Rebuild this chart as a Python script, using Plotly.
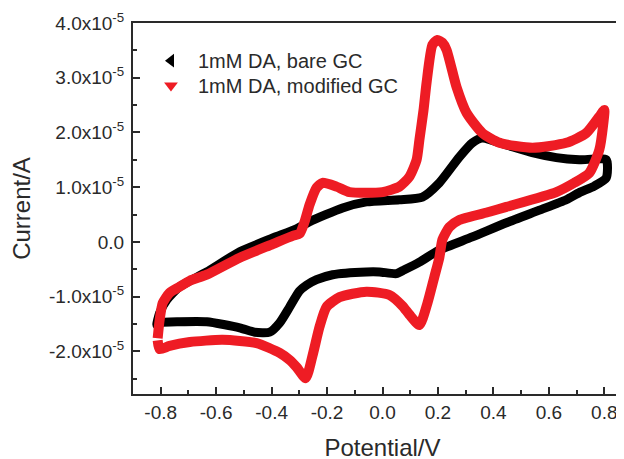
import plotly.graph_objects as go

# Bare GC (black) - potential (V) and current (A), loop starting at -0.8 V
bare_x = [-0.814, -0.804, -0.778, -0.732, -0.634, -0.515, -0.396, -0.31, -0.263, -0.144,
          -0.058, 0.061, 0.144, 0.205, 0.277, 0.324, 0.36, 0.447, 0.54, 0.627,
          0.71, 0.807, 0.807, 0.764, 0.71, 0.663, 0.566, 0.447, 0.324, 0.205,
          0.133, 0.079, 0.05, -0.011, -0.058, -0.18, -0.238, -0.274, -0.30, -0.335,
          -0.371, -0.407, -0.461, -0.515, -0.634, -0.732, -0.804, -0.814]
bare_y = [-1.52e-5, -1.30e-5, -1.06e-5, -0.82e-5, -0.55e-5, -0.18e-5, 0.07e-5, 0.24e-5, 0.37e-5, 0.62e-5,
          0.73e-5, 0.77e-5, 0.82e-5, 1.08e-5, 1.55e-5, 1.81e-5, 1.90e-5, 1.77e-5, 1.63e-5, 1.54e-5,
          1.50e-5, 1.50e-5, 1.17e-5, 1.02e-5, 0.90e-5, 0.77e-5, 0.58e-5, 0.35e-5, 0.09e-5, -0.15e-5,
          -0.37e-5, -0.51e-5, -0.58e-5, -0.55e-5, -0.55e-5, -0.60e-5, -0.69e-5, -0.79e-5, -0.90e-5, -1.19e-5,
          -1.48e-5, -1.65e-5, -1.65e-5, -1.57e-5, -1.46e-5, -1.46e-5, -1.48e-5, -1.52e-5]

# Modified GC (red)
mod_x = [-0.811, -0.804, -0.793, -0.768, -0.732, -0.695, -0.634, -0.515, -0.396, -0.324,
         -0.299, -0.281, -0.263, -0.238, -0.216, -0.166, -0.119, 0.0, 0.061, 0.097,
         0.123, 0.133, 0.148, 0.159, 0.18, 0.198, 0.216, 0.231, 0.267, 0.303,
         0.36, 0.422, 0.541, 0.663, 0.735, 0.782, 0.80, 0.796, 0.782, 0.746,
         0.692, 0.627, 0.447, 0.386, 0.277, 0.241, 0.216, 0.205, 0.187, 0.162,
         0.133, 0.097, 0.072, 0.025, -0.058, -0.155, -0.202, -0.227, -0.252, -0.277,
         -0.31, -0.335, -0.371, -0.454, -0.577, -0.695, -0.768, -0.804, -0.811]
mod_y = [-1.76e-5, -1.43e-5, -1.12e-5, -0.93e-5, -0.82e-5, -0.71e-5, -0.60e-5, -0.29e-5, -0.04e-5, 0.11e-5,
         0.15e-5, 0.37e-5, 0.68e-5, 0.99e-5, 1.08e-5, 1.01e-5, 0.91e-5, 0.91e-5, 1.01e-5, 1.19e-5,
         1.50e-5, 1.86e-5, 2.41e-5, 2.91e-5, 3.60e-5, 3.69e-5, 3.64e-5, 3.51e-5, 2.83e-5, 2.36e-5,
         1.99e-5, 1.81e-5, 1.72e-5, 1.81e-5, 1.99e-5, 2.29e-5, 2.41e-5, 2.14e-5, 1.68e-5, 1.26e-5,
         1.08e-5, 0.91e-5, 0.64e-5, 0.55e-5, 0.40e-5, 0.27e-5, 0.04e-5, -0.29e-5, -0.64e-5, -1.12e-5,
         -1.52e-5, -1.33e-5, -1.17e-5, -0.97e-5, -0.91e-5, -1.01e-5, -1.19e-5, -1.55e-5, -2.07e-5, -2.49e-5,
         -2.29e-5, -2.16e-5, -2.03e-5, -1.85e-5, -1.79e-5, -1.83e-5, -1.90e-5, -1.96e-5, -1.80e-5]

series_names = ["1mM DA, bare GC", "1mM DA, modified GC"]

x_tick_vals = [-0.8, -0.6, -0.4, -0.2, 0.0, 0.2, 0.4, 0.6, 0.8]
x_tick_text = ["-0.8", "-0.6", "-0.4", "-0.2", "0.0", "0.2", "0.4", "0.6", "0.8"]
y_tick_vals = [-2e-5, -1e-5, 0, 1e-5, 2e-5, 3e-5, 4e-5]
y_tick_text = ["-2.0x10<sup>-5</sup>", "-1.0x10<sup>-5</sup>", "0.0", "1.0x10<sup>-5</sup>",
               "2.0x10<sup>-5</sup>", "3.0x10<sup>-5</sup>", "4.0x10<sup>-5</sup>"]

BLACK = "#000000"
RED = "#ee1c24"
INK = "#2a2a2a"
FONT = "Liberation Sans, Arial, sans-serif"

fig = go.Figure()
fig.add_trace(go.Scatter(x=bare_x, y=bare_y, mode="lines", line=dict(color=BLACK, width=9, shape="spline", smoothing=0.6),
                         showlegend=False, hoverinfo="skip"))
fig.add_trace(go.Scatter(x=mod_x, y=mod_y, mode="lines", line=dict(color=RED, width=10, shape="spline", smoothing=0.6),
                         showlegend=False, hoverinfo="skip"))
# legend entries (marker symbols as in the original)
fig.add_trace(go.Scatter(x=[None], y=[None], mode="markers", name=series_names[0], legend="legend",
                         marker=dict(symbol="triangle-left", color=BLACK, size=12)))
fig.add_trace(go.Scatter(x=[None], y=[None], mode="markers", name=series_names[1], legend="legend2",
                         marker=dict(symbol="triangle-down", color=RED, size=12)))

legend_common = dict(xanchor="left", yanchor="top", bgcolor="rgba(0,0,0,0)",
                     font=dict(size=20, color=INK), itemwidth=44)

fig.update_layout(
    width=624, height=459,
    margin=dict(l=125, r=0, t=15, b=73),
    paper_bgcolor="white", plot_bgcolor="white",
    font=dict(family=FONT, color=INK, size=19),
    legend=dict(x=0.022, y=0.951, **legend_common),
    legend2=dict(x=0.022, y=0.884, **legend_common),
    xaxis=dict(range=[-0.9, 0.9], showgrid=False, zeroline=False, automargin=False,
               showline=True, linecolor=INK, linewidth=2, mirror=True,
               ticks="inside", ticklen=7, tickwidth=2, tickcolor=INK,
               tickmode="array", tickvals=x_tick_vals, ticktext=x_tick_text,
               tickfont=dict(size=19), ticklabelstandoff=0,
               minor=dict(ticks="inside", ticklen=4, tickwidth=2, tickcolor=INK,
                          tickmode="linear", tick0=-0.9, dtick=0.1),
               title=dict(text="Potential/V", font=dict(size=24), standoff=17)),
    yaxis=dict(range=[-2.78e-5, 4.0e-5], showgrid=False, zeroline=False, automargin=False,
               showline=True, linecolor=INK, linewidth=2, mirror=False,
               ticks="inside", ticklen=7, tickwidth=2, tickcolor=INK,
               tickmode="array", tickvals=y_tick_vals, ticktext=y_tick_text,
               tickfont=dict(size=19), ticklabelstandoff=3,
               minor=dict(ticks="inside", ticklen=4, tickwidth=2, tickcolor=INK,
                          tickmode="linear", tick0=0, dtick=0.5e-5),
               title=dict(text="Current/A", font=dict(size=24), standoff=14)),
)

fig.write_html("out.html")
